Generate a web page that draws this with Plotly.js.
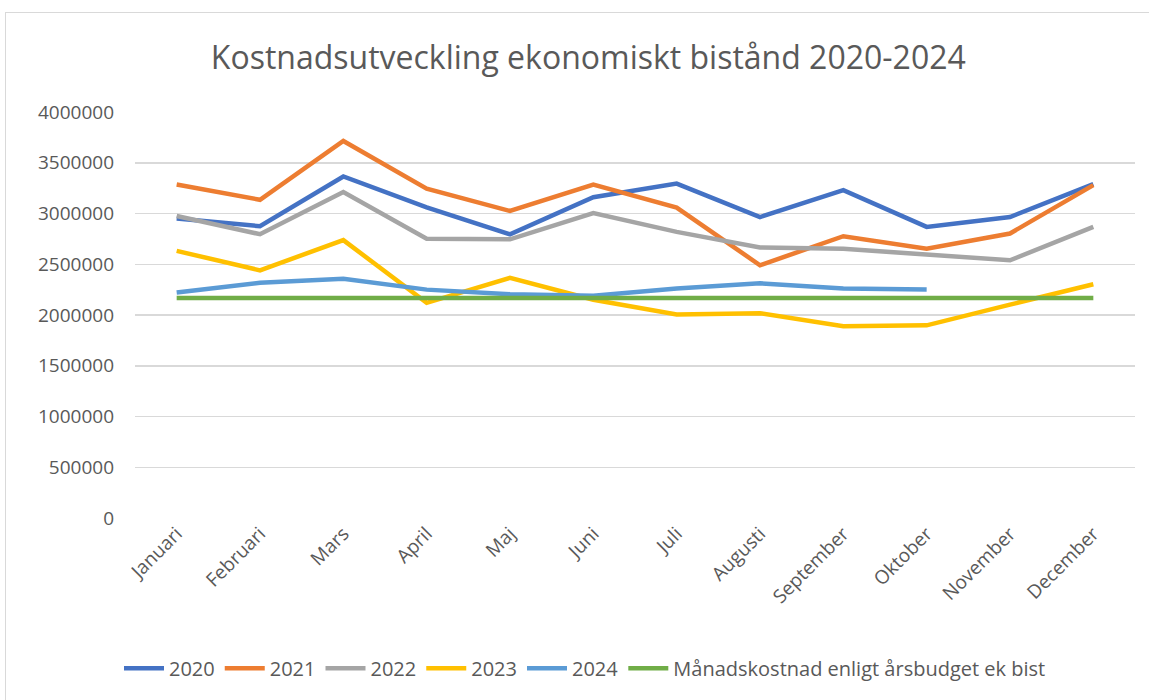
<!DOCTYPE html>
<html><head><meta charset="utf-8">
<script src="https://cdn.plot.ly/plotly-3.0.1.min.js"></script>
<style>
html,body{margin:0;padding:0;background:#fff;}
#frame{position:absolute;left:5px;top:12px;width:1150px;height:700px;border:1px solid #d9d9d9;box-sizing:border-box;}
#chart{position:absolute;left:0;top:0;width:1149px;height:700px;}
</style></head>
<body><div id="frame"></div><div id="chart"></div>
<script>
const months = ["Januari","Februari","Mars","April","Maj","Juni","Juli","Augusti","September","Oktober","November","December"];
const y2020 = [2950000,2875000,3365000,3060000,2795000,3160000,3295000,2965000,3230000,2868000,2965000,3290000];
const y2021 = [3285000,3135000,3715000,3245000,3025000,3285000,3058000,2490000,2776000,2652000,2803000,3280000];
const y2022 = [2975000,2796000,3212000,2752000,2746000,3004000,2819000,2665000,2652000,2596000,2539000,2868000];
const y2023 = [2632000,2440000,2738000,2120000,2366000,2150000,2004000,2018000,1889000,1898000,2102000,2303000];
const y2024 = [2222000,2318000,2358000,2250000,2205000,2190000,2262000,2312000,2262000,2252000];
const budget = [2167000,2167000,2167000,2167000,2167000,2167000,2167000,2167000,2167000,2167000,2167000,2167000];
const names = ["2020","2021","2022","2023","2024","Månadskostnad enligt årsbudget ek bist"];
const colors = ["#4472C4","#ED7D31","#A5A5A5","#FFC000","#5B9BD5","#70AD47"];
const series = [y2020,y2021,y2022,y2023,y2024,budget];
const FONT = "'Open Sans',sans-serif";
const traces = series.map((s,i)=>({
  type:"scatter", mode:"lines", name:names[i],
  x: months.slice(0,s.length), y: s,
  line:{color:colors[i], width:4.5, shape:"linear"}
}));
const layout = {
  width:1149, height:700,
  margin:{l:135,r:14,t:112,b:182},
  paper_bgcolor:"rgba(0,0,0,0)", plot_bgcolor:"#fff",
  title:{text:"Kostnadsutveckling ekonomiskt bistånd 2020-2024", x:0.512, xanchor:"center", y:0.918, yanchor:"middle",
    font:{family:FONT, size:32, color:"#595959"}},
  xaxis:{type:"category", categoryorder:"array", categoryarray:months, tickangle:-45, automargin:false,
    showgrid:false, zeroline:false, showline:false, ticks:"",
    tickfont:{family:FONT, size:19, color:"#595959"}, range:[-0.5,11.5]},
  yaxis:{range:[0,4000000], automargin:false, tickvals:[0,500000,1000000,1500000,2000000,2500000,3000000,3500000,4000000],
    ticktext:["0","500000","1000000","1500000","2000000","2500000","3000000","3500000","4000000"],
    showgrid:true, gridcolor:"#d9d9d9", gridwidth:1.5, zeroline:false, showline:false, ticks:"",
    ticklabelstandoff:20,
    tickfont:{family:FONT, size:19, color:"#595959"}},
  showlegend:true,
  legend:{orientation:"h", x:0.45, xanchor:"center", y:-0.37, yanchor:"middle",
    font:{family:FONT, size:20, color:"#595959"}, traceorder:"normal", itemwidth:40},
};
Plotly.newPlot("chart", traces, layout, {displayModeBar:false, staticPlot:true});
</script></body></html>
